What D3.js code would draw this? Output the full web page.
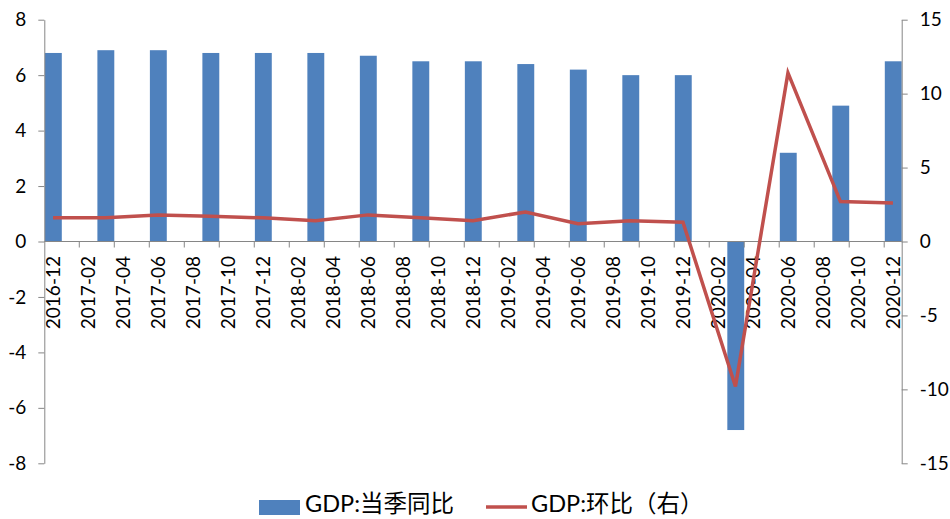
<!DOCTYPE html>
<html>
<head>
<meta charset="utf-8">
<script src="https://d3js.org/d3.v7.min.js"></script>
<style>
  body { margin: 0; background: #fff; }
  text { font-family: Lato, "Noto Sans CJK SC", sans-serif; fill: #000; }
</style>
</head>
<body>
<div id="chart"></div>
<script>
  // Quarterly data
  var quarters = ["2016-12","2017-03","2017-06","2017-09","2017-12","2018-03","2018-06","2018-09","2018-12",
                  "2019-03","2019-06","2019-09","2019-12","2020-03","2020-06","2020-09","2020-12"];
  var yoy = [6.8, 6.9, 6.9, 6.8, 6.8, 6.8, 6.7, 6.5, 6.5, 6.4, 6.2, 6.0, 6.0, -6.8, 3.2, 4.9, 6.5];
  var qoq = [1.6, 1.6, 1.8, 1.7, 1.6, 1.4, 1.8, 1.6, 1.4, 2.0, 1.2, 1.4, 1.3, -9.8, 11.4, 2.7, 2.6];

  // Axis labels
  var tickLabels = ["2016-12","2017-02","2017-04","2017-06","2017-08","2017-10","2017-12","2018-02","2018-04",
                    "2018-06","2018-08","2018-10","2018-12","2019-02","2019-04","2019-06","2019-08","2019-10",
                    "2019-12","2020-02","2020-04","2020-06","2020-08","2020-10","2020-12"];
  var leftTicks = [8, 6, 4, 2, 0, -2, -4, -6, -8];
  var rightTicks = [15, 10, 5, 0, -5, -10, -15];

  var width = 950, height = 519;
  var plotLeft = 44.3, plotRight = 901.7, plotTop = 19.7, plotBottom = 463.3;

  var fmt = d3.timeFormat("%Y-%m");
  var months = d3.timeMonth.range(new Date(2016, 11, 1), new Date(2021, 0, 1)).map(fmt);

  var x = d3.scaleBand().domain(months).range([plotLeft, plotRight]).padding(0);
  var yL = d3.scaleLinear().domain([-8, 8]).range([plotBottom, plotTop]);
  var yR = d3.scaleLinear().domain([-15, 15]).range([plotBottom, plotTop]);

  var svg = d3.select("#chart").append("svg")
    .attr("width", width)
    .attr("height", height);

  var axisColor = "#868686";
  var plainNum = function(d) { return String(d); };  // hyphen minus like the original

  // bars
  svg.selectAll("rect.bar")
    .data(quarters)
    .enter()
    .append("rect")
    .attr("class", "bar")
    .attr("x", function(d) { return x(d) + 0.6; })
    .attr("width", x.bandwidth() - 0.6)
    .attr("y", function(d, i) { return Math.min(yL(yoy[i]), yL(0)); })
    .attr("height", function(d, i) { return Math.abs(yL(yoy[i]) - yL(0)); })
    .attr("fill", "#4F81BD");

  // x axis
  var zeroY = yL(0);
  var xAxis = svg.append("g")
    .attr("transform", "translate(0," + zeroY + ")")
    .call(d3.axisBottom(x).tickValues(tickLabels.slice(1)).tickSize(6).tickFormat(""));
  xAxis.select(".domain").remove();
  xAxis.selectAll(".tick").attr("transform", function(d) { return "translate(" + x(d) + ",0)"; });
  xAxis.selectAll(".tick line").attr("stroke", axisColor);
  svg.append("line")
    .attr("x1", plotLeft).attr("x2", plotRight)
    .attr("y1", zeroY).attr("y2", zeroY)
    .attr("stroke", axisColor);

  svg.append("g").selectAll("text")
    .data(tickLabels)
    .enter()
    .append("text")
    .attr("transform", function(d) {
      return "translate(" + (x(d) + x.bandwidth() / 2) + ",256) rotate(-90)";
    })
    .attr("text-anchor", "end")
    .attr("dy", "0.36em")
    .style("font-size", "19px")
    .text(function(d) { return d; });

  // left axis
  var gl = svg.append("g")
    .attr("transform", "translate(" + plotLeft + ",0)")
    .call(d3.axisLeft(yL).tickValues(leftTicks).tickFormat(plainNum)
      .tickSize(6).tickSizeOuter(0).tickPadding(12));
  gl.selectAll("path, line").attr("stroke", axisColor);
  gl.selectAll("text").style("font-size", "19px").attr("font-family", null);

  // right axis
  var gr = svg.append("g")
    .attr("transform", "translate(" + plotRight + ",0)")
    .call(d3.axisRight(yR).tickValues(rightTicks).tickFormat(plainNum)
      .tickSize(6).tickSizeOuter(0).tickPadding(12));
  gr.selectAll("path, line").attr("stroke", axisColor);
  gr.selectAll("text").style("font-size", "19px").attr("font-family", null);

  // line
  var line = d3.line()
    .x(function(d) { return x(d) + x.bandwidth() / 2; })
    .y(function(d, i) { return yR(qoq[i]); });

  svg.append("path")
    .datum(quarters)
    .attr("d", line)
    .attr("fill", "none")
    .attr("stroke", "#C0504D")
    .attr("stroke-width", 3.5)
    .attr("stroke-linejoin", "miter");

  // legend
  var legend = svg.append("g");
  legend.append("rect")
    .attr("x", 259).attr("y", 500).attr("width", 41).attr("height", 15)
    .attr("fill", "#4F81BD");
  legend.append("text")
    .attr("x", 305).attr("y", 512)
    .style("font-size", "23.5px")
    .text("GDP:当季同比");
  legend.append("line")
    .attr("x1", 486).attr("x2", 527).attr("y1", 507).attr("y2", 507)
    .attr("stroke", "#C0504D").attr("stroke-width", 3.5);
  legend.append("text")
    .attr("x", 531).attr("y", 512)
    .style("font-size", "23.5px")
    .text("GDP:环比（右）");
</script>
</body>
</html>
